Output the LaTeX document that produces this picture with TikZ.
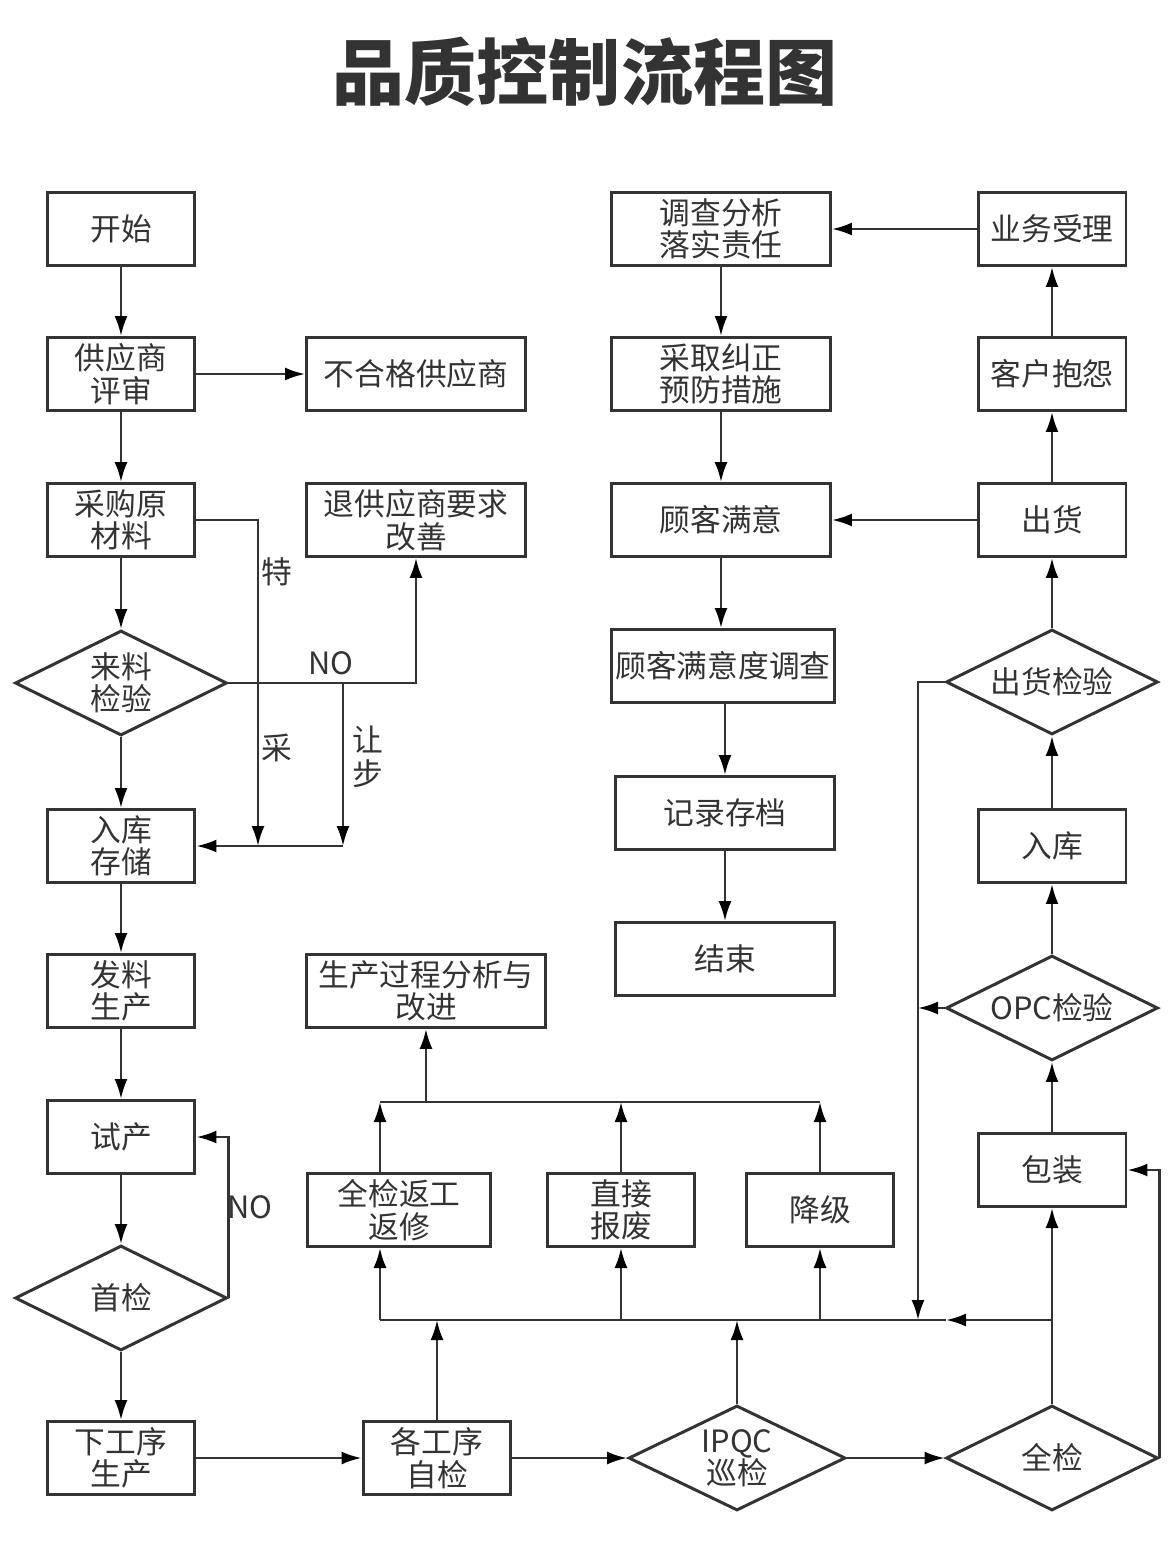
\documentclass[tikz,border=0pt]{standalone}
\usepackage{fontspec}
\setmainfont{Noto Sans CJK SC}
\usepackage{tikz}
\usetikzlibrary{shapes.geometric}
\usetikzlibrary{arrows.meta}
\definecolor{ink}{HTML}{333333}

\begin{document}
\begin{tikzpicture}[x=0.02cm, y=-0.02cm,
    box/.style={draw=ink, line width=1.7pt, text=ink, align=center, inner sep=0pt,
      minimum width=2.96cm, minimum height=1.46cm,
      font=\fontsize{17.5}{18.5}\selectfont},
    widebox/.style={box, minimum width=4.38cm},
    check/.style={box, diamond, minimum width=4.24cm, minimum height=2.1cm, shape aspect=2},
    line/.style={draw=ink, line width=1.4pt, -{Latex[length=0.4cm, width=0.26cm, color=black]}},
    plain/.style={draw=ink, line width=1.4pt},
    tag/.style={text=ink, inner sep=0pt, align=center, font=\fontsize{17.5}{19.5}\selectfont}]
  \fill[white] (0,0) rectangle (1170,1543);
  \useasboundingbox (0,0) rectangle (1170,1543);
  \node[text=ink, font=\fontsize{41}{41}\selectfont\bfseries] (title) at (585,72) {品质控制流程图};

  % left column
  \node[box] (start) at (121,229) {开始};
  \node[box] (review) at (121,374) {供应商\\评审};
  \node[box] (buy) at (121,520) {采购原\\材料};
  \node[check] (inspect) at (121,683) {来料\\检验};
  \node[box] (store) at (121,846) {入库\\存储};
  \node[box] (issue) at (121,991) {发料\\生产};
  \node[box] (trial) at (121,1137) {试产};
  \node[check] (first) at (121,1298) {首检};
  \node[box] (next) at (121,1458) {下工序\\生产};

  % middle
  \node[widebox] (badsup) at (416,374) {不合格供应商};
  \node[widebox] (retsup) at (416,520) {退供应商要求\\改善};
  \node[box, minimum width=4.78cm] (improve) at (426,991) {生产过程分析与\\改进};
  \node[box, minimum width=3.68cm] (rework) at (399,1210) {全检返工\\返修};
  \node[box] (scrap) at (621,1210) {直接\\报废};
  \node[box] (downgrade) at (820,1210) {降级};
  \node[box] (self) at (437,1458) {各工序\\自检};
  \node[check, minimum width=4.34cm] (ipqc) at (737,1458) {IPQC\\巡检};
  \node[check] (fullcheck) at (1052,1458) {全检};

  % customer column
  \node[widebox] (investigate) at (721,229) {调查分析\\落实责任};
  \node[widebox] (correct) at (721,374) {采取纠正\\预防措施};
  \node[widebox] (satisfied) at (721,520) {顾客满意};
  \node[box, minimum width=4.48cm] (survey) at (723,666) {顾客满意度调查};
  \node[widebox] (record) at (725,813) {记录存档};
  \node[widebox] (finish) at (725,959) {结束};

  % right column
  \node[box] (accept) at (1052,229) {业务受理};
  \node[box] (complain) at (1052,374) {客户抱怨};
  \node[box] (ship) at (1052,520) {出货};
  \node[check] (shipcheck) at (1052,682) {出货检验};
  \node[box] (instock) at (1052,846) {入库};
  \node[check] (opc) at (1052,1008) {OPC检验};
  \node[box] (pack) at (1052,1170) {包装};

  % junctions
  \coordinate (sp) at (258,846);
  \coordinate (cs) at (343,846);
  \coordinate (busL) at (380,1320);
  \coordinate (busR) at (1052,1320);
  \coordinate (busA) at (946,1320);
  \coordinate (topL) at (380,1102);
  \coordinate (topR) at (820,1102);
  \coordinate (ret) at (918,1320);

  % incoming material
  \draw[line] (start) -- (review);
  \draw[line] (review) -- (badsup);
  \draw[line] (review) -- (buy);
  \draw[line] (buy) -- (inspect);
  \draw[line] (inspect) -- (store);
  \draw[line] (buy.east) -| (sp);
  \draw[line] (inspect.east) -| (retsup.south);
  \draw[line] (inspect.east -| cs) -- (cs);
  \draw[line] (cs) -- (store.east);
  \node[tag] (te) at (277,572) {特};
  \node[tag] (cai) at (277,748) {采};
  \node[tag] (no1) at (331,663) {NO};
  \node[tag] (rang) at (368,757) {让\\步};

  % production
  \draw[line] (store) -- (issue);
  \draw[line] (issue) -- (trial);
  \draw[line] (trial) -- (first);
  \draw[line] (first) -- (next);
  \draw[line] (first.east) |- (trial.east);
  \node[tag] (no2) at (250,1207) {NO};
  \draw[line] (next) -- (self);
  \draw[line] (self) -- (ipqc);
  \draw[line] (ipqc) -- (fullcheck);

  % nonconforming handling
  \draw[line] (self.north) -- (self.north |- busL);
  \draw[line] (ipqc.north) -- (ipqc.north |- busL);
  \draw[line] (busR) -- (busA);
  \draw[plain] (busA) -- (busL);
  \draw[line] (busL) -- (busL |- rework.south);
  \draw[line] (scrap.south |- busL) -- (scrap.south);
  \draw[line] (downgrade.south |- busL) -- (downgrade.south);
  \draw[line] (topL |- rework.north) -- (topL);
  \draw[line] (scrap.north) -- (scrap.north |- topL);
  \draw[line] (downgrade.north) -- (topR);
  \draw[plain] (topL) -- (topR);
  \draw[line] (improve.south |- topL) -- (improve.south);

  % shipping
  \draw[line] (fullcheck.north) -- (pack.south);
  \draw[line] (fullcheck.east) |- (pack.east);
  \draw[line] (pack) -- (opc);
  \draw[line] (opc) -- (instock);
  \draw[line] (instock) -- (shipcheck);
  \draw[line] (shipcheck) -- (ship);
  \draw[line] (opc.west) -- (opc.west -| ret);
  \draw[line] (shipcheck.west) -| (ret);

  % customer feedback
  \draw[line] (ship) -- (complain);
  \draw[line] (complain) -- (accept);
  \draw[line] (accept) -- (investigate);
  \draw[line] (investigate) -- (correct);
  \draw[line] (correct) -- (satisfied);
  \draw[line] (ship) -- (satisfied);
  \draw[line] (satisfied.south) -- (satisfied.south |- survey.north);
  \draw[line] (survey.south -| record.north) -- (record.north);
  \draw[line] (record) -- (finish);
\end{tikzpicture}
\end{document}
